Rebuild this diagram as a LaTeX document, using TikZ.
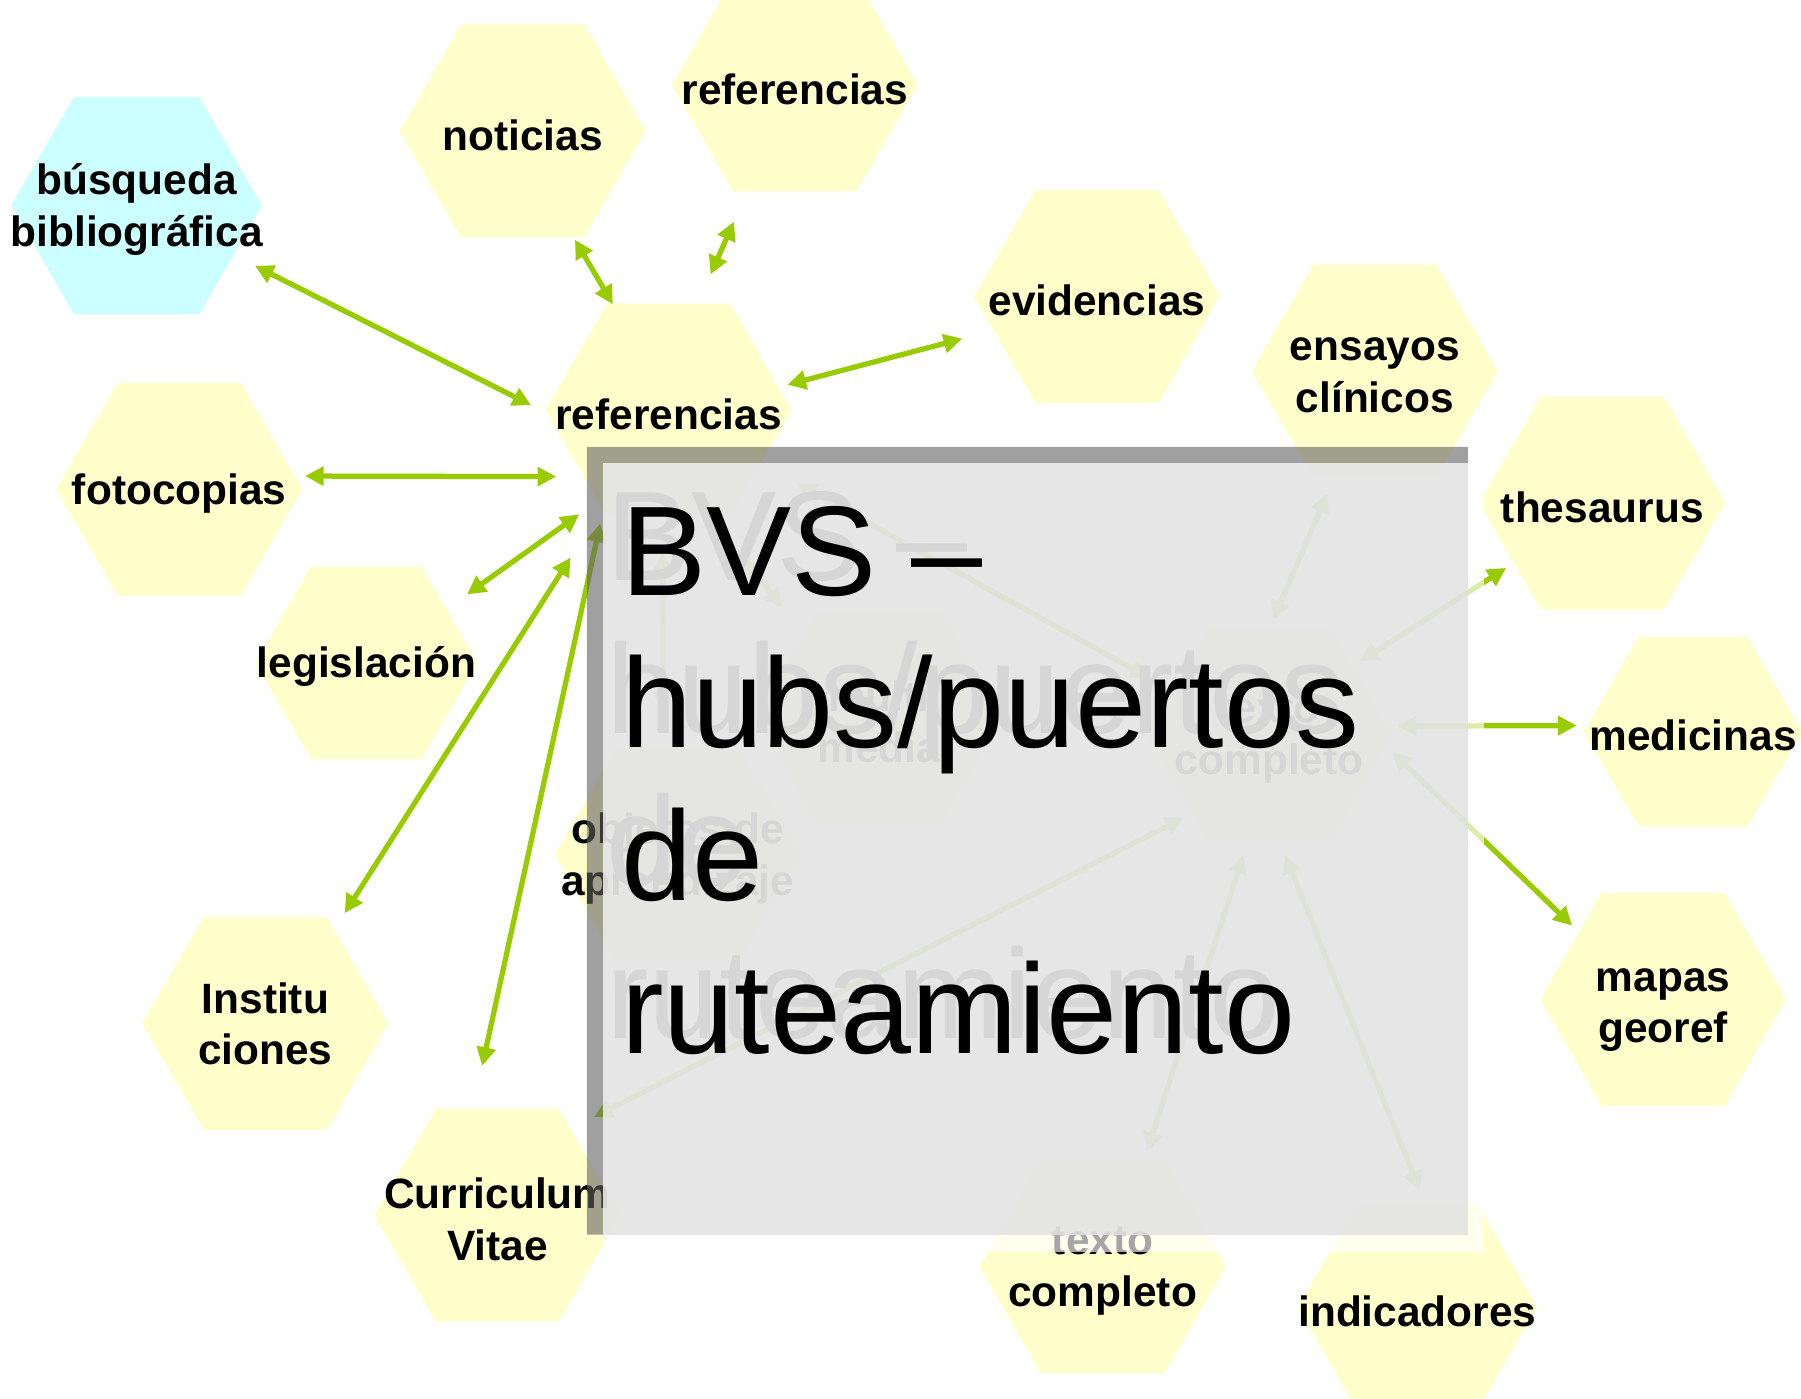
\documentclass[tikz,border=0pt]{standalone}
\usepackage{fontspec}
\setmainfont{Liberation Sans}
\usepackage{tikz}
\usetikzlibrary{shapes.geometric, arrows.meta}
\definecolor{hexyellow}{HTML}{FFFFCC}
\definecolor{hexcyan}{HTML}{CCFFFF}
\definecolor{linkgreen}{HTML}{99CC00}
\definecolor{paneldark}{HTML}{616161}
\definecolor{panellight}{HTML}{E4E4E4}
\tikzset{
  hexa/.style={regular polygon, regular polygon sides=6, fill=#1, draw=none,
               minimum size=2.14cm, inner sep=0pt, outer sep=0.08cm},
  hexa/.default=hexyellow,
  lbl/.style={font=\fontsize{10.5}{12.8}\selectfont\bfseries, align=center, inner sep=0pt,
              yshift=-0.035cm},
  link/.style={{Triangle[length=4.6pt, width=4.6pt]}-{Triangle[length=4.6pt, width=4.6pt]},
               line width=1.3pt, color=linkgreen},
  headline/.style={font=\fontsize{31.6}{37.8}\selectfont, align=left, inner sep=0pt, anchor=north west},
}
\begin{document}
\begin{tikzpicture}[x=0.01cm, y=-0.01cm]
  \useasboundingbox (0,0) rectangle (1568,1218);
  % hexagons
  \node[hexa=hexcyan, minimum size=2.18cm] (busq) at (119,179) {};
  \node[hexa] (notic) at (455,114) {};
  \node[hexa] (reftop) at (692,74) {};
  \node[hexa] (ref) at (582,357) {};
  \node[hexa] (evid) at (955,258) {};
  \node[hexa] (ensay) at (1197,323) {};
  \node[hexa] (thes) at (1395,438) {};
  \node[hexa, minimum size=1.9cm] (medic) at (1474,637) {};
  \node[hexa] (mapas) at (1448,870) {};
  \node[hexa, minimum size=2.08cm] (indic) at (1234,1138) {};
  \node[hexa] (textob) at (960,1103) {};
  \node[hexa] (cv) at (433,1058) {};
  \node[hexa] (inst) at (231,891) {};
  \node[hexa, minimum size=1.93cm] (legis) at (319,577) {};
  \node[hexa] (foto) at (156,426) {};
  \node[hexa] (objet) at (590,744) {};
  \node[hexa] (multi) at (765,625) {};
  \node[hexa] (hub) at (1105,640) {};
  % links
  \draw[link, shorten <=0.13cm, shorten >=0.05cm] (busq.-27) -- (ref.179);
  \draw[link, shorten <=-0.07cm, shorten >=-0.1cm] (notic.-64) -- (ref.118);
  \draw[link, shorten <=0.2cm, shorten >=0.19cm] (reftop.-114) -- (ref.74);
  \draw[link, shorten >=0.2cm] (ref.12) -- (evid.-162);
  \draw[link, shorten >=0.15cm] (foto.6) -- (ref.-145);
  \draw[link, shorten <=0.14cm, shorten >=0.12cm] (legis.34) -- (ref.-129);
  \draw[link, shorten <=0.08cm, shorten >=0.42cm] (inst.54) -- (ref.-124);
  \draw[link, shorten <=0.3cm] (cv.101) -- (ref.-121);
  \draw[link, shorten <=0.29cm, shorten >=0.15cm] (ref.-30) -- (hub.155);
  \draw[link, shorten <=0.23cm, shorten >=0.24cm] (ref.-93) -- (objet.97);
  \draw[link, shorten <=0.36cm, shorten >=0.22cm] (ref.-66) -- (multi.132);
  \draw[link, shorten >=0.07cm] (hub.88) -- (ensay.-111);
  \draw[link] (hub.39) -- (thes.-146);
  \draw[link] (hub.4) -- (medic.177);
  \draw[link] (hub.-8) -- (mapas.141);
  \draw[link, shorten <=0.04cm, shorten >=0.04cm] (hub.-83) -- (indic.88);
  \draw[link, shorten <=0.04cm] (hub.-102) -- (textob.69);
  \draw[link, shorten >=0.15cm] (hub.-136) -- (cv.48);
  % labels
  \node[lbl] (busqL) at (busq) {búsqueda\\bibliográfica};
  \node[lbl] (noticL) at (notic) {noticias};
  \node[lbl] (reftopL) at (reftop) {referencias};
  \node[lbl] (refL) at (ref) {referencias};
  \node[lbl] (evidL) at (evid) {evidencias};
  \node[lbl] (ensayL) at (ensay) {ensayos\\clínicos};
  \node[lbl] (thesL) at (thes) {thesaurus};
  \node[lbl] (medicL) at (medic) {medicinas};
  \node[lbl, yshift=-0.06cm] (mapasL) at (mapas) {mapas\\georef};
  \node[lbl] (indicL) at (indic) {indicadores};
  \node[lbl] (textobL) at (textob) {texto\\completo};
  \node[lbl] (cvL) at (cv) {Curriculum\\Vitae};
  \node[lbl, yshift=0.03cm] (instL) at (inst) {Institu\\ciones};
  \node[lbl] (legisL) at (legis) {legislación};
  \node[lbl] (fotoL) at (foto) {fotocopias};
  \node[lbl] (objetL) at (objet) {objetos de\\aprendizaje};
  \node[lbl] (multiL) at (multi) {multi\\media};
  \node[lbl] (hubL) at (hub) {texto\\completo};
  \node[headline] (ghost) at (527,427) {BVS –\\hubs/puertos\\de\\ruteamiento};
  % panel
  \fill[paneldark, opacity=0.6] (511,389) -- (1278,389) -- (1278,403) -- (525,403)
    -- (525,1075) -- (511,1075) -- cycle;
  \fill[white, opacity=0.65] (1278,403) -- (1292,403) -- (1292,1090) -- (525,1090)
    -- (525,1075) -- (1278,1075) -- cycle;
  \fill[panellight, opacity=0.94] (525,403) rectangle (1278,1075);
  \node[headline] (title) at (540,440) {BVS –\\hubs/puertos\\de\\ruteamiento};
\end{tikzpicture}
\end{document}
